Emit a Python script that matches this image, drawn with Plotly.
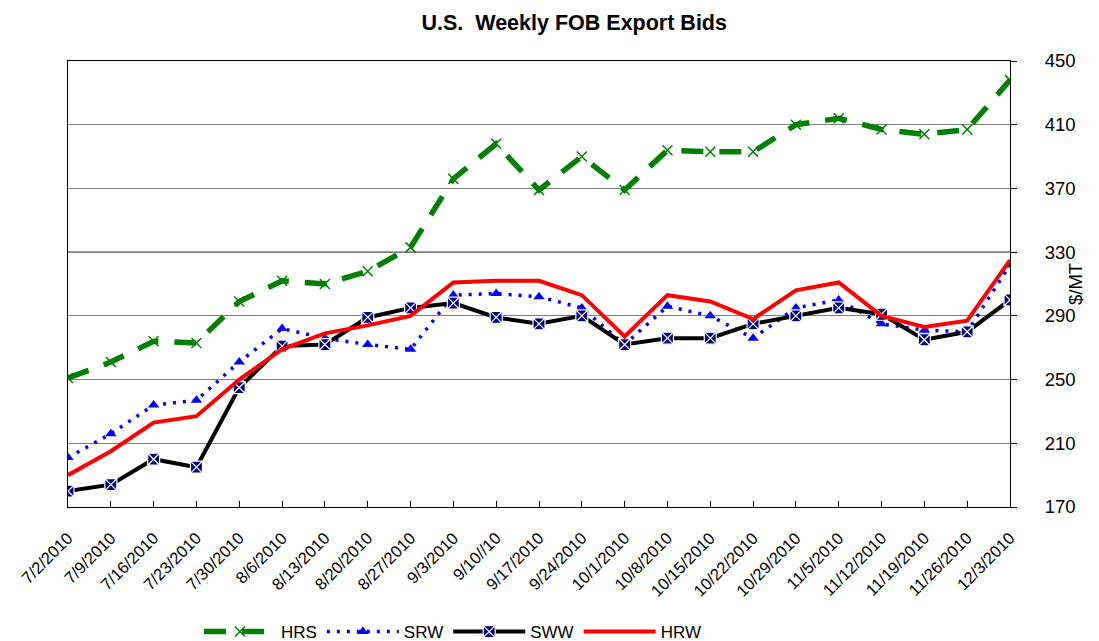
import plotly.graph_objects as go

dates = ["7/2/2010", "7/9/2010", "7/16/2010", "7/23/2010", "7/30/2010", "8/6/2010",
         "8/13/2010", "8/20/2010", "8/27/2010", "9/3/2010", "9/10//10", "9/17/2010",
         "9/24/2010", "10/1/2010", "10/8/2010", "10/15/2010", "10/22/2010", "10/29/2010",
         "11/5/2010", "11/12/2010", "11/19/2010", "11/26/2010", "12/3/2010"]

hrs = [251, 261, 274, 273, 299, 312, 310, 318, 333, 376, 398, 369, 390, 369, 394,
       393, 393, 410, 414, 407, 404, 407, 438]
srw = [201, 216, 234, 237, 261, 282, 276, 272, 269, 303, 304, 302, 295, 272, 296,
       290, 276, 295, 300, 285, 281, 280, 322]
sww = [180, 184, 200, 195, 245, 271, 272, 289, 295, 298, 289, 285, 290, 272, 276,
       276, 285, 290, 295, 291, 275, 280, 300]
hrw = [190, 205, 223, 227, 250, 269, 279, 284, 290, 311, 312, 312, 303, 277, 303,
       299, 288, 306, 311, 290, 283, 287, 325]

y_ticks = [170, 210, 250, 290, 330, 370, 410, 450]

fig = go.Figure()
fig.add_trace(go.Scatter(
    x=dates, y=hrs, name="HRS", mode="lines+markers",
    line=dict(color="#008000", width=5.5, dash="22px,16px"),
    marker=dict(symbol="x-thin-open", size=10, color="#008000",
                line=dict(color="#008000", width=1.5)),
))
fig.add_trace(go.Scatter(
    x=dates, y=srw, name="SRW", mode="lines+markers",
    line=dict(color="#0000FF", width=3.5, dash="3px,7px"),
    marker=dict(symbol="triangle-up", size=10, color="#0000FF"),
))
fig.add_trace(go.Scatter(
    x=dates, y=sww, name="SWW", mode="lines+markers",
    line=dict(color="#000000", width=4),
    marker=dict(symbol="square-x", size=12, color="#000080",
                line=dict(color="#FFFFFF", width=1.2)),
))
fig.add_trace(go.Scatter(
    x=dates, y=hrw, name="HRW", mode="lines",
    line=dict(color="#FF0000", width=4),
))

fig.add_shape(type="line", xref="paper", yref="y", x0=0, x1=1, y0=330, y1=330,
              line=dict(color="#000000", width=1), layer="below")

fig.add_annotation(text="$/MT", xref="paper", yref="paper", x=1.069, y=0.5,
                   xanchor="center", yanchor="middle", textangle=-90,
                   showarrow=False, font=dict(size=18.5))

fig.update_layout(
    width=1091, height=641,
    paper_bgcolor="white", plot_bgcolor="white",
    margin=dict(l=60, r=89, t=53, b=142),
    font=dict(family="Liberation Sans, Arial, sans-serif", color="#000000", size=17),
    title=dict(text="<b>U.S.  Weekly FOB Export Bids</b>", x=0.519, xanchor="center",
               yref="container", y=1 - 14 / 641, yanchor="middle", font=dict(size=21.5)),
    showlegend=True,
    legend=dict(orientation="h", x=0.139, xanchor="left", yref="container",
                y=(641 - 624) / 641, yanchor="middle", itemwidth=72, font=dict(size=17),
                bgcolor="rgba(0,0,0,0)", traceorder="normal"),
    xaxis=dict(
        type="category", range=[0, len(dates) - 1], tickangle=-45,
        tickfont=dict(size=16.5), showgrid=False, showline=True, linecolor="#000000",
        linewidth=1, mirror=True, ticks="inside", ticklen=6, tickcolor="#000000",
        zeroline=False, automargin=False, ticklabelstandoff=14,
    ),
    yaxis=dict(
        side="right", range=[170, 450], tickvals=y_ticks, tickfont=dict(size=18.5),
        showgrid=True, gridcolor="#808080", gridwidth=1, showline=True,
        linecolor="#000000", linewidth=1, mirror=True, ticks="outside", ticklen=6,
        tickcolor="#000000", zeroline=False, automargin=False, ticklabelstandoff=24,
    ),
)

fig.write_html("out.html")
